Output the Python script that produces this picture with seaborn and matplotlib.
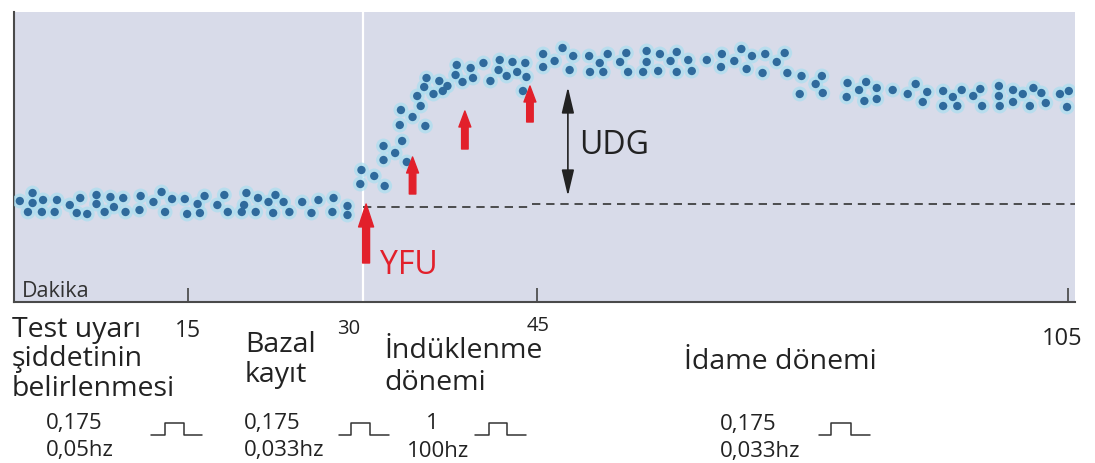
import numpy as np
import pandas as pd
import matplotlib
matplotlib.use("Agg")
import matplotlib.pyplot as plt
from matplotlib.lines import Line2D
import seaborn as sns

# ---------------- data (minutes, response as % of baseline) ----------------
base_t = [0.5, 1.6, 1.6, 1.2, 2.5, 2.4, 3.7, 3.5, 4.8, 5.4,
          5.7, 6.3, 7.1, 7.1, 7.8, 8.3, 8.6, 9.4, 9.6, 10.9,
          10.8, 12.0, 12.7, 13.6, 13.0, 14.7, 14.9, 15.8, 16.0, 16.4,
          17.5, 18.1, 18.4, 19.6, 19.8, 20.0, 20.8, 21.0, 21.9, 22.5,
          22.3, 23.2, 23.7, 24.8, 25.6, 26.2, 27.4, 27.5, 28.7, 28.7]
base_y = [105, 113, 103, 94, 106, 94, 106, 94, 101, 93,
          108, 92, 111, 102, 94, 109, 99, 108, 94, 110,
          96, 104, 114, 107, 94, 107, 92, 102, 93, 110,
          101, 111, 94, 94, 101, 113, 94, 108, 104, 111,
          93, 104, 94, 104, 93, 106, 94, 108, 100, 91]

ind_t = [29.9, 29.8, 31.0, 31.9, 31.8, 31.8, 32.8, 33.4, 33.8, 33.2,
         33.3, 34.3, 35.4, 35.0, 34.7, 35.3, 35.5, 36.1, 36.6, 36.9,
         37.3, 38.0, 38.1, 38.6, 39.3, 39.5, 40.4, 41.0, 41.7, 41.8,
         42.4, 42.9, 43.3, 44.0, 44.1, 43.8]
ind_y = [136, 122, 130, 120, 146, 160, 153, 165, 144, 181,
         196, 189, 180, 200, 210, 219, 228, 212, 225, 215,
         220, 231, 241, 224, 238, 228, 243, 225, 236, 246,
         230, 244, 234, 243, 229, 215]

maint_t = [45.7, 45.7, 47.0, 47.9, 48.7, 49.1, 50.9, 51.0, 52.1, 52.5,
           53.0, 54.4, 55.1, 55.3, 57.0, 57.4, 57.4, 58.9, 58.7, 60.1,
           60.8, 60.8, 62.1, 62.5, 64.2, 65.9, 65.8, 67.3, 68.1, 68.7,
           69.3, 70.8, 70.5, 72.1, 73.0, 73.3, 74.9, 74.7, 76.5, 77.2,
           77.3, 80.1, 80.0, 81.4, 82.2, 82.0, 83.4, 83.4, 85.2, 86.9,
           87.8, 88.6, 89.1, 90.9, 90.9, 92.0, 92.5, 93.0, 94.3, 95.1,
           95.3, 97.2, 97.2, 97.3, 98.8, 98.8, 99.9, 100.7, 101.1, 102.0,
           102.5, 104.1, 105.1, 104.9]
maint_y = [252, 239, 245, 258, 236, 250, 250, 234, 243, 234,
           252, 244, 253, 234, 234, 244, 255, 252, 235, 245,
           254, 234, 246, 235, 246, 252, 239, 245, 257, 237,
           250, 252, 233, 244, 253, 233, 230, 212, 222, 230,
           213, 223, 209, 216, 224, 205, 218, 207, 216, 212,
           222, 204, 214, 215, 200, 209, 200, 216, 210, 217,
           200, 220, 210, 200, 216, 204, 212, 200, 218, 213,
           203, 212, 215, 199]

tick_values = [15, 30, 45, 105]
baseline_left = 99
baseline_right = 102
yfu_t = 30.3
hfs_t = [34.3, 38.8, 44.4]
hfs_tail = [112, 157, 184]
hfs_tip = [149, 195, 220]
udg_t = 48.5
udg_top = 219
udg_bottom = 110

df = pd.DataFrame({"t": base_t + ind_t + maint_t,
                   "y": base_y + ind_y + maint_y})

# ---------------- figure ----------------
W, H = 1095, 464
sns.set_theme(style="white")
plt.rcParams["font.family"] = ["Open Sans", "DejaVu Sans"]

fig = plt.figure(figsize=(W / 100, H / 100), dpi=100)
fig.patch.set_facecolor("white")
ax = fig.add_axes([14 / W, 1 - 303 / H, 1061 / W, 290 / H])
ax.set_facecolor("#d8dbe9")

R = 8.85 / 11.62


def fwd(x):
    x = np.asarray(x, float)
    return np.where(x <= 45, x, 45 + (x - 45) * R)


def inv(x):
    x = np.asarray(x, float)
    return np.where(x <= 45, x, 45 + (x - 45) / R)


ax.set_xscale("function", functions=(fwd, inv))
ax.set_xlim(0, 105.8)
ax.set_ylim(4, 294)

ax.axvline(30, color="white", lw=1.6, zorder=1)
ax.plot([30, 44.3], [baseline_left] * 2, ls=(0, (5, 3.5)), color="#333333", lw=1.2, zorder=2)
ax.plot([44.6, 105.8], [baseline_right] * 2, ls=(0, (5, 3.5)), color="#333333", lw=1.2, zorder=2)

sns.scatterplot(data=df, x="t", y="y", ax=ax, s=115, color="#a9def0", alpha=0.7,
                edgecolor="none", legend=False, zorder=3)
sns.scatterplot(data=df, x="t", y="y", ax=ax, s=36, color="#2f6a9c",
                edgecolor="none", legend=False, zorder=4)

red = "#e2202b"
ax.annotate("", xy=(yfu_t, baseline_right), xytext=(yfu_t, 43),
            arrowprops=dict(arrowstyle="simple,head_length=1.65,head_width=1.08,tail_width=0.5",
                            mutation_scale=10, color=red, shrinkA=0, shrinkB=0), zorder=5)
for t, a, b in zip(hfs_t, hfs_tail, hfs_tip):
    ax.annotate("", xy=(t, b), xytext=(t, a),
                arrowprops=dict(arrowstyle="simple,head_length=1.15,head_width=0.86,tail_width=0.47",
                                mutation_scale=10, color=red, shrinkA=0, shrinkB=0), zorder=5)
ax.annotate("", xy=(udg_t, udg_top), xytext=(udg_t, udg_bottom),
            arrowprops=dict(arrowstyle="<|-|>,head_length=1.6,head_width=0.38",
                            mutation_scale=10, color="#222222", lw=1.2, shrinkA=0, shrinkB=0),
            zorder=5)
ax.text(49.8, 161, "UDG", fontsize=23, va="center", ha="left", color="#222222")
ax.text(31.5, 42, "YFU", fontsize=23, va="center", ha="left", color=red)

for s in ["top", "right"]:
    ax.spines[s].set_visible(False)
for s in ["left", "bottom"]:
    ax.spines[s].set_color("#4a4a4a")
    ax.spines[s].set_linewidth(1.5)
ax.set_xticks(tick_values)
ax.set_xticklabels([])
ax.set_yticks([])
ax.tick_params(axis="x", direction="in", length=10, width=1.2, color="#444444", bottom=True)
ax.set_xlabel("")
ax.set_ylabel("")


def ftext(px, py, s, size, ha="left", color="#222222"):
    fig.text(px / W, 1 - py / H, s, fontsize=size, ha=ha, va="baseline", color=color)


def pulse(x0, x1, x2, x3, ylo=436, yhi=424):
    xs = np.array([x0, x1, x1, x2, x2, x3]) / W
    ys = 1 - np.array([ylo, ylo, yhi, yhi, ylo, ylo]) / H
    fig.add_artist(Line2D(xs, ys, color="#333333", lw=1.1))


ftext(22, 297, "Dakika", 15.5, color="#333333")

ftext(188, 337, "15", 16.5, ha="center")
ftext(349, 334, "30", 14.5, ha="center")
ftext(538, 331, "45", 14.5, ha="center")
ftext(1062, 345, "105", 17, ha="center")

ftext(12, 337, "Test uyarı", 20.5)
ftext(12, 366, "şiddetinin", 20.5)
ftext(12, 396, "belirlenmesi", 20.5)
ftext(245, 352, "Bazal", 20.5)
ftext(245, 382, "kayıt", 20.5)
ftext(384, 358, "İndüklenme", 20.5)
ftext(384, 390, "dönemi", 20.5)
ftext(684, 369, "İdame dönemi", 20.5)

ftext(46, 429, "0,175", 16)
ftext(46, 456, "0,05hz", 16)
ftext(244, 429, "0,175", 16)
ftext(244, 456, "0,033hz", 16)
ftext(426, 429, "1", 16)
ftext(407, 457, "100hz", 16)
ftext(720, 430, "0,175", 16)
ftext(720, 457, "0,033hz", 16)

pulse(151, 165, 184, 202)
pulse(339, 351, 370, 389)
pulse(475, 489, 507, 526)
pulse(819, 831, 851, 870)

fig.savefig("out.png", dpi=100, facecolor="white")
